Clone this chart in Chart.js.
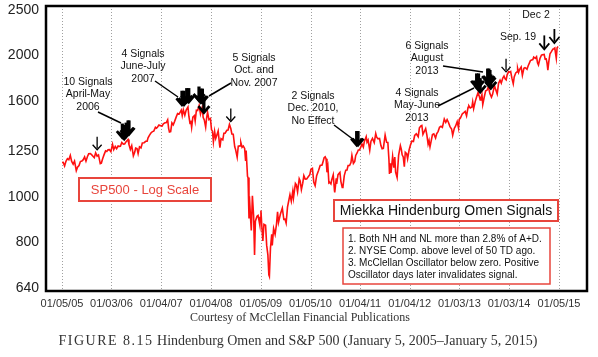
<!DOCTYPE html>
<html><head><meta charset="utf-8">
<script src="https://cdn.jsdelivr.net/npm/chart.js@4.4.1/dist/chart.umd.min.js"></script>
<style>html,body{margin:0;padding:0;background:#fff;}canvas{display:block;}</style>
</head><body>
<canvas id="c" width="598" height="357"></canvas>
<script>
// ---------- DATA ----------
const dates = [
'2005-01-05','2005-01-14','2005-01-24','2005-02-03','2005-02-14','2005-02-24','2005-03-07','2005-03-17','2005-03-28','2005-04-07','2005-04-20','2005-04-29','2005-05-10','2005-05-20','2005-05-31','2005-06-10','2005-06-20','2005-06-30','2005-07-11','2005-07-20','2005-08-01','2005-08-10','2005-08-22','2005-08-30','2005-09-09','2005-09-20','2005-09-30','2005-10-13','2005-10-21','2005-10-31','2005-11-10','2005-11-21','2005-11-30','2005-12-09','2005-12-19','2005-12-30',
'2006-01-11','2006-01-20','2006-01-31','2006-02-10','2006-02-21','2006-02-28','2006-03-10','2006-03-20','2006-03-31','2006-04-10','2006-04-21','2006-05-05','2006-05-12','2006-05-22','2006-06-01','2006-06-13','2006-06-23','2006-06-30','2006-07-10','2006-07-18','2006-07-28','2006-08-08','2006-08-18','2006-08-31','2006-09-12','2006-09-22','2006-09-29','2006-10-10','2006-10-20','2006-10-31','2006-11-10','2006-11-22','2006-11-30','2006-12-08','2006-12-18','2006-12-29',
'2007-01-10','2007-01-19','2007-01-31','2007-02-09','2007-02-20','2007-02-27','2007-03-05','2007-03-14','2007-03-23','2007-04-02','2007-04-12','2007-04-24','2007-05-04','2007-05-15','2007-05-31','2007-06-07','2007-06-15','2007-06-26','2007-07-06','2007-07-19','2007-07-26','2007-08-03','2007-08-09','2007-08-15','2007-08-24','2007-09-04','2007-09-10','2007-09-19','2007-09-28','2007-10-09','2007-10-19','2007-10-31','2007-11-08','2007-11-16','2007-11-26','2007-12-03','2007-12-10','2007-12-20','2007-12-31',
'2008-01-08','2008-01-15','2008-01-22','2008-01-31','2008-02-08','2008-02-15','2008-02-26','2008-03-07','2008-03-10','2008-03-18','2008-03-31','2008-04-08','2008-04-17','2008-04-30','2008-05-09','2008-05-19','2008-05-29','2008-06-06','2008-06-16','2008-06-27','2008-07-03','2008-07-15','2008-07-23','2008-08-05','2008-08-11','2008-08-20','2008-08-29','2008-09-08','2008-09-15','2008-09-19','2008-09-29','2008-10-03','2008-10-10','2008-10-13','2008-10-22','2008-10-27','2008-11-04','2008-11-13','2008-11-20','2008-11-26','2008-12-08','2008-12-16','2008-12-29','2008-12-31',
'2009-01-06','2009-01-12','2009-01-20','2009-01-28','2009-02-09','2009-02-17','2009-02-26','2009-03-05','2009-03-09','2009-03-17','2009-03-26','2009-03-30','2009-04-09','2009-04-20','2009-04-30','2009-05-08','2009-05-15','2009-05-29','2009-06-12','2009-06-23','2009-07-02','2009-07-10','2009-07-20','2009-07-31','2009-08-07','2009-08-17','2009-08-28','2009-09-02','2009-09-16','2009-09-23','2009-10-02','2009-10-14','2009-10-21','2009-10-30','2009-11-09','2009-11-17','2009-11-27','2009-12-08','2009-12-18','2009-12-31',
'2010-01-08','2010-01-19','2010-01-29','2010-02-08','2010-02-19','2010-03-05','2010-03-17','2010-03-31','2010-04-09','2010-04-15','2010-04-23','2010-04-29','2010-05-06','2010-05-13','2010-05-20','2010-05-25','2010-06-04','2010-06-10','2010-06-21','2010-06-30','2010-07-02','2010-07-13','2010-07-16','2010-07-26','2010-08-09','2010-08-16','2010-08-26','2010-08-31','2010-09-10','2010-09-21','2010-09-30','2010-10-08','2010-10-19','2010-10-29','2010-11-05','2010-11-16','2010-11-26','2010-12-03','2010-12-13','2010-12-22','2010-12-31',
'2011-01-07','2011-01-18','2011-01-28','2011-02-04','2011-02-18','2011-02-24','2011-03-04','2011-03-16','2011-03-25','2011-04-05','2011-04-18','2011-04-29','2011-05-06','2011-05-16','2011-05-27','2011-06-06','2011-06-15','2011-06-24','2011-07-07','2011-07-18','2011-07-27','2011-08-04','2011-08-08','2011-08-12','2011-08-19','2011-08-31','2011-09-09','2011-09-16','2011-09-22','2011-10-03','2011-10-14','2011-10-27','2011-11-03','2011-11-09','2011-11-17','2011-11-25','2011-12-02','2011-12-12','2011-12-19','2011-12-30',
'2012-01-10','2012-01-20','2012-01-31','2012-02-09','2012-02-21','2012-03-06','2012-03-15','2012-03-26','2012-04-02','2012-04-10','2012-04-20','2012-04-30','2012-05-09','2012-05-18','2012-05-25','2012-06-01','2012-06-12','2012-06-19','2012-06-29','2012-07-12','2012-07-20','2012-07-31','2012-08-10','2012-08-21','2012-08-31','2012-09-14','2012-09-25','2012-10-05','2012-10-15','2012-10-26','2012-11-07','2012-11-15','2012-11-27','2012-12-06','2012-12-18','2012-12-28',
'2013-01-02','2013-01-11','2013-01-25','2013-02-05','2013-02-15','2013-02-25','2013-03-08','2013-03-14','2013-03-25','2013-04-05','2013-04-11','2013-04-18','2013-04-30','2013-05-10','2013-05-21','2013-05-31','2013-06-05','2013-06-11','2013-06-18','2013-06-24','2013-07-05','2013-07-15','2013-07-24','2013-08-02','2013-08-08','2013-08-15','2013-08-27','2013-09-04','2013-09-18','2013-09-27','2013-10-08','2013-10-18','2013-10-29','2013-11-07','2013-11-18','2013-11-27','2013-12-05','2013-12-13','2013-12-20','2013-12-31',
'2014-01-10','2014-01-15','2014-01-24','2014-02-03','2014-02-10','2014-02-21','2014-03-03','2014-03-07','2014-03-14','2014-03-21','2014-04-02','2014-04-11','2014-04-22','2014-04-30','2014-05-09','2014-05-15','2014-05-23','2014-06-09','2014-06-18','2014-06-27','2014-07-03','2014-07-15','2014-07-24','2014-07-31','2014-08-07','2014-08-18','2014-08-29','2014-09-05','2014-09-18','2014-09-25','2014-10-03','2014-10-09','2014-10-15','2014-10-23','2014-10-31','2014-11-10','2014-11-21','2014-11-28','2014-12-05','2014-12-10','2014-12-16','2014-12-22','2014-12-29'
];
const closes = [
1183,1184,1163,1190,1206,1200,1225,1190,1174,1191,1137,1156,1166,1189,1192,1200,1216,1191,1219,1235,1236,1230,1219,1212,1241,1221,1228,1177,1180,1207,1230,1253,1249,1259,1260,1248,
1294,1261,1280,1266,1283,1281,1282,1305,1295,1296,1311,1325,1291,1262,1285,1223,1245,1270,1267,1236,1278,1271,1302,1304,1313,1314,1336,1354,1368,1377,1380,1406,1400,1409,1423,1418,
1415,1430,1438,1438,1459,1399,1374,1377,1437,1424,1448,1480,1505,1501,1530,1490,1533,1492,1530,1553,1483,1433,1453,1406,1479,1489,1451,1529,1527,1565,1501,1549,1475,1458,1407,1472,1515,1460,1468,
1390,1380,1310,1378,1331,1349,1381,1293,1273,1330,1322,1366,1366,1386,1388,1426,1398,1361,1360,1278,1262,1214,1282,1284,1305,1275,1283,1268,1193,1255,1106,1099,899,1003,896,848,1005,911,752,887,909,913,870,903,
935,870,805,874,870,789,752,682,677,778,832,788,856,832,873,929,882,919,946,895,896,879,951,987,1010,979,1029,995,1068,1061,1025,1093,1081,1036,1069,1110,1091,1092,1102,1115,
1145,1150,1074,1056,1109,1138,1166,1169,1194,1211,1217,1206,1128,1157,1071,1074,1065,1087,1114,1031,1022,1095,1065,1115,1127,1079,1047,1049,1110,1140,1141,1166,1166,1183,1226,1178,1190,1225,1240,1258,1258,
1272,1295,1276,1311,1343,1307,1321,1257,1314,1332,1305,1364,1340,1329,1331,1286,1266,1268,1354,1306,1305,1200,1119,1179,1124,1219,1154,1216,1129,1099,1225,1285,1262,1229,1216,1159,1244,1236,1205,1258,
1292,1315,1312,1351,1362,1343,1403,1416,1419,1358,1378,1398,1354,1295,1318,1278,1325,1357,1362,1334,1362,1379,1406,1413,1406,1465,1441,1461,1440,1411,1395,1353,1399,1414,1446,1402,
1462,1472,1503,1511,1520,1488,1551,1563,1546,1553,1593,1541,1597,1633,1669,1631,1609,1626,1652,1573,1632,1682,1685,1709,1697,1661,1630,1653,1725,1692,1656,1745,1772,1747,1791,1808,1785,1775,1819,1848,
1842,1848,1790,1742,1800,1836,1846,1878,1841,1866,1890,1815,1879,1884,1878,1870,1900,1951,1957,1961,1985,1973,1988,1931,1910,1971,2003,2007,2011,1965,1967,1928,1862,1950,2018,2038,2064,2068,2075,2026,1972,2078,2090
];
const xTickDates  = ['2005-01-05','2006-01-03','2007-01-04','2008-01-04','2009-01-05','2010-01-05','2011-01-04','2012-01-04','2013-01-03','2014-01-03','2015-01-05'];
const xTickLabels = ['01/05/05','01/03/06','01/04/07','01/04/08','01/05/09','01/05/10','01/04/11','01/04/12','01/03/13','01/03/14','01/05/15'];
const yTickValues = [640,800,1000,1250,1600,2000,2500];
const yTickLabels = ['640','800','1000','1250','1600','2000','2500'];
// Hindenburg Omen signal dates
const signalDates = ['2005-09-20',
 '2006-03-24','2006-04-07','2006-04-21','2006-05-05','2006-05-12',
 '2007-06-05','2007-06-20','2007-07-10','2007-07-25',
 '2007-10-08','2007-10-22','2007-11-02','2007-11-13',
 '2008-05-29',
 '2010-12-10','2010-12-20',
 '2013-05-10','2013-05-24','2013-06-05',
 '2013-07-30','2013-08-08','2013-08-16','2013-08-22',
 '2013-12-12',
 '2014-09-19','2014-12-02'];

// ---------- helpers ----------
function toYear(s){const [y,m,d]=s.split('-').map(Number);const t=Date.UTC(y,m-1,d),t0=Date.UTC(y,0,1),t1=Date.UTC(y+1,0,1);return y+(t-t0)/(t1-t0);}
const n = Math.min(dates.length, closes.length);
const points = [];
for(let i=0;i<n;i++) points.push({x:toYear(dates[i]), y:closes[i]});

// ---------- annotation styling (layout only) ----------
const thinSignals = ['2005-09-20','2008-05-29','2013-12-12'];
const midSignals  = ['2014-09-19','2014-12-02'];
const noteTexts = [
 {x:88,  y:82, lines:['10 Signals','April-May','2006']},
 {x:143, y:54, lines:['4 Signals','June-July','2007']},
 {x:254, y:58, lines:['5 Signals','Oct. and','Nov. 2007']},
 {x:313, y:96, lines:['2 Signals','Dec. 2010,','No Effect']},
 {x:417, y:93, lines:['4 Signals','May-June','2013']},
 {x:427, y:46, lines:['6 Signals','August','2013']},
 {x:518, y:37, lines:['Sep. 19']},
 {x:536, y:15, lines:['Dec 2']}
];
const leaders = [[98,112,121,123],[155,81,178,97],[209,96,231,83],[334,125,354,140],[438,106,474,88],[443,66,483,72]];
const rules = ['1. Both NH and NL more than 2.8% of A+D.','2. NYSE Comp. above level of 50 TD ago.','3. McClellan Oscillator below zero. Positive','Oscillator days later invalidates signal.'];

function drawArrow(ctx,x,tip,kind){
  const len = kind==='thin'?13:14;
  ctx.save();
  ctx.strokeStyle='#000'; ctx.lineCap='butt'; ctx.lineJoin='miter';
  const lw = kind==='thin'?1.3:(kind==='mid'?1.8:3.2);
  const hw = kind==='thin'?4.5:(kind==='mid'?5:5.5);
  const hh = kind==='thin'?5:(kind==='mid'?6:6.5);
  ctx.lineWidth=lw;
  ctx.beginPath(); ctx.moveTo(x,tip-len); ctx.lineTo(x,tip-1.5); ctx.stroke();
  ctx.lineWidth = kind==='thick'?2.8:lw;
  ctx.beginPath(); ctx.moveTo(x-hw,tip-hh); ctx.lineTo(x,tip); ctx.lineTo(x+hw,tip-hh); ctx.stroke();
  ctx.restore();
}

const annot = {
  id:'annot',
  beforeDatasetsDraw(chart){
    const {ctx, chartArea:a, scales:{x}} = chart;
    ctx.save(); ctx.strokeStyle='#a0a0a0'; ctx.lineWidth=1; ctx.setLineDash([1,2]);
    x.ticks.forEach(t=>{const px=Math.round(x.getPixelForValue(t.value))+0.5;ctx.beginPath();ctx.moveTo(px,a.top);ctx.lineTo(px,a.bottom);ctx.stroke();});
    ctx.restore();
  },
  afterDatasetsDraw(chart){
    const {ctx, scales:{x,y}} = chart;
    signalDates.forEach(d=>{
      const t = toYear(d);
      let best = 0;
      points.forEach(p=>{ if(Math.abs(p.x-t)<0.035 && p.y>best) best=p.y; });
      const kind = thinSignals.includes(d)?'thin':(midSignals.includes(d)?'mid':'thick');
      const gap = kind==='thin'?3:5;
      drawArrow(ctx, x.getPixelForValue(t), y.getPixelForValue(best)-gap, kind);
    });
    ctx.save(); ctx.strokeStyle='#000'; ctx.lineWidth=1.5;
    leaders.forEach(l=>{ctx.beginPath();ctx.moveTo(l[0],l[1]);ctx.lineTo(l[2],l[3]);ctx.stroke();});
    ctx.restore();
    ctx.save(); ctx.fillStyle='#111'; ctx.font='10.5px "Liberation Sans", Arial, sans-serif';
    ctx.textAlign='center'; ctx.textBaseline='middle';
    noteTexts.forEach(t=>t.lines.forEach((s,i)=>ctx.fillText(s,t.x,t.y+i*12.4)));
    ctx.restore();
  },
  afterDraw(chart){
    const {ctx, chartArea:a} = chart;
    ctx.save();
    ctx.strokeStyle='#000'; ctx.lineWidth=2.5;
    ctx.strokeRect(a.left, a.top, a.right-a.left, a.bottom-a.top);
    const red='#e8453c';
    ctx.fillStyle='#fff'; ctx.fillRect(79,178,132,23);
    ctx.strokeStyle=red; ctx.lineWidth=2; ctx.strokeRect(79,178,132,23);
    ctx.fillStyle=red; ctx.font='13px "Liberation Sans", Arial, sans-serif'; ctx.textAlign='center'; ctx.textBaseline='middle';
    ctx.fillText('SP500 - Log Scale',145,190);
    ctx.fillStyle='#fff'; ctx.fillRect(334,200,224,21);
    ctx.strokeStyle=red; ctx.lineWidth=2; ctx.strokeRect(334,200,224,21);
    ctx.fillStyle='#111'; ctx.font='14px "Liberation Sans", Arial, sans-serif';
    ctx.fillText('Miekka Hindenburg Omen Signals',446,211);
    ctx.fillStyle='#fff'; ctx.fillRect(343,228,207,56);
    ctx.strokeStyle=red; ctx.lineWidth=1.5; ctx.strokeRect(343,228,207,56);
    ctx.fillStyle='#111'; ctx.font='10px "Liberation Sans", Arial, sans-serif'; ctx.textAlign='left';
    rules.forEach((s,i)=>ctx.fillText(s,348,239+i*12));
    ctx.fillStyle='#333'; ctx.textAlign='center';
    ctx.font='12px "Liberation Serif", "Times New Roman", serif';
    ctx.fillText('Courtesy of McClellan Financial Publications',300,318);
    ctx.font='14px "Liberation Serif", "Times New Roman", serif';
    const p1='FIGURE 8.15', p2=' Hindenburg Omen and S&P 500 (January 5, 2005\u2013January 5, 2015)';
    ctx.letterSpacing='1.5px';
    const w1=ctx.measureText(p1).width;
    ctx.letterSpacing='0px';
    const w2=ctx.measureText(p2).width;
    const x0=298-(w1+w2)/2;
    ctx.textAlign='left';
    ctx.letterSpacing='1.5px'; ctx.fillText(p1,x0,341);
    ctx.letterSpacing='0px'; ctx.fillText(p2,x0+w1,341);
    ctx.restore();
  }
};

new Chart(document.getElementById('c'), {
  type:'line',
  data:{datasets:[{data:points, borderColor:'#ff1010', borderWidth:1.6, pointRadius:0, tension:0, fill:false}]},
  options:{
    responsive:false, animation:false, devicePixelRatio:1,
    layout:{padding:{top:6,right:11,left:0,bottom:0}},
    plugins:{legend:{display:false}, tooltip:{enabled:false}},
    scales:{
      x:{type:'linear', min:2004.689, max:2015.574,
        grid:{display:false, drawTicks:false}, border:{display:false},
        afterBuildTicks:s=>{s.ticks=xTickDates.map(d=>({value:toYear(d)}));},
        afterFit:s=>{s.height=66; s.paddingLeft=0; s.paddingRight=0;},
        ticks:{autoSkip:false, maxRotation:0, padding:6, color:'#333', font:{family:'"Liberation Sans", Arial, sans-serif', size:11},
          callback:(v,i)=>xTickLabels[i]}},
      y:{type:'logarithmic', min:630, max:2550,
        grid:{display:false, drawTicks:false}, border:{display:false},
        afterBuildTicks:s=>{s.ticks=yTickValues.map(v=>({value:v}));},
        afterFit:s=>{s.width=46; s.paddingTop=0; s.paddingBottom=0;},
        ticks:{padding:7, color:'#222', font:{family:'"Liberation Sans", Arial, sans-serif', size:14},
          callback:(v,i)=>yTickLabels[i]}}
    }
  },
  plugins:[annot]
});
</script></body></html>
